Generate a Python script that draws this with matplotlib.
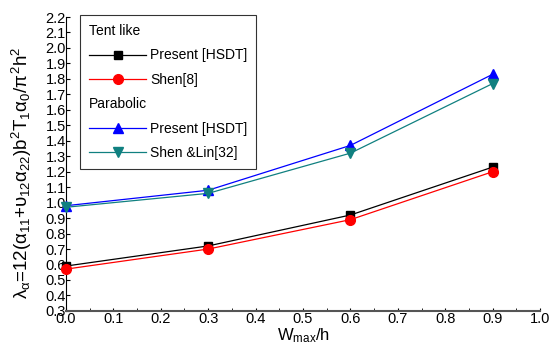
import matplotlib
matplotlib.use("Agg")
import matplotlib.pyplot as plt
from matplotlib.lines import Line2D

plt.rcParams['font.family'] = ['Liberation Sans', 'DejaVu Sans']
plt.rcParams['mathtext.fontset'] = 'custom'
plt.rcParams['mathtext.rm'] = 'Liberation Sans'
plt.rcParams['mathtext.it'] = 'Liberation Sans'

x = [0.0, 0.3, 0.6, 0.9]
tent_present = [0.59, 0.72, 0.92, 1.23]
tent_shen = [0.57, 0.70, 0.89, 1.20]
para_present = [0.98, 1.08, 1.37, 1.83]
para_shenlin = [0.97, 1.06, 1.32, 1.77]

fig = plt.figure(figsize=(5.49, 3.47), dpi=100)
ax = fig.add_axes([0.120, 0.104, 0.864, 0.847])

l1, = ax.plot(x, tent_present, color='black', lw=0.9, marker='s', ms=6, clip_on=False, zorder=3)
l2, = ax.plot(x, tent_shen, color='red', lw=0.9, marker='o', ms=7, clip_on=False, zorder=3)
l3, = ax.plot(x, para_present, color='blue', lw=0.9, marker='^', ms=7.5, clip_on=False, zorder=3)
l4, = ax.plot(x, para_shenlin, color='#108080', lw=0.9, marker='v', ms=7.5, clip_on=False, zorder=3)

ax.set_xlim(0, 1.0)
ax.set_ylim(0.3, 2.2)
ax.set_xticks([i / 10 for i in range(11)])
ax.set_xticklabels([f"{i/10:.1f}" for i in range(11)])
ax.set_xticks([0.05 + i / 10 for i in range(10)], minor=True)
ax.set_yticks([0.3 + i / 10 for i in range(20)])
ax.set_yticklabels([f"{0.3 + i/10:.1f}" for i in range(20)])
ax.tick_params(axis='both', which='both', direction='in', labelsize=10.5)
ax.tick_params(axis='y', length=3, pad=0)
ax.tick_params(axis='x', length=2, pad=1)
ax.tick_params(axis='x', which='minor', length=2)
ax.spines['top'].set_visible(False)
ax.spines['right'].set_visible(False)
ax.spines['bottom'].set_color('#555555')
ax.spines['bottom'].set_linewidth(1.5)

ax.set_xlabel(r'W$_{\mathrm{max}}$/h', fontsize=12, labelpad=0)
ax.set_ylabel(r'$\lambda_{\alpha}$=12($\alpha_{11}$+$\upsilon_{12}\alpha_{22}$)b$^2$T$_1\alpha_0$/$\pi^2$h$^2$',
              fontsize=13.5)
ax.yaxis.set_label_coords(-0.068, 0.47)

blank1 = Line2D([], [], linestyle='none', marker=None)
blank2 = Line2D([], [], linestyle='none', marker=None)
handles = [blank1, l1, l2, blank2, l3, l4]
labels = ['Tent like', 'Present [HSDT]', 'Shen[8]', 'Parabolic', 'Present [HSDT]', 'Shen &Lin[32]']
leg = fig.legend(handles, labels, loc='upper left', bbox_to_anchor=(80 / 549, 1 - 15 / 347),
                 borderaxespad=0, fontsize=10, frameon=True, fancybox=False, edgecolor='black',
                 handlelength=4.1, handletextpad=0.3, labelspacing=0.75, borderpad=0.65)
leg.get_frame().set_linewidth(0.8)

# make header rows start at the left edge (no handle space)
try:
    for col in leg._legend_handle_box.get_children():
        for row in col.get_children():
            da, ta = row.get_children()
            txt = ta._text.get_text()
            if txt in ('Tent like', 'Parabolic'):
                da.width = 0
                row.sep = 0
except Exception:
    pass

fig.savefig('out.png', dpi=100)
